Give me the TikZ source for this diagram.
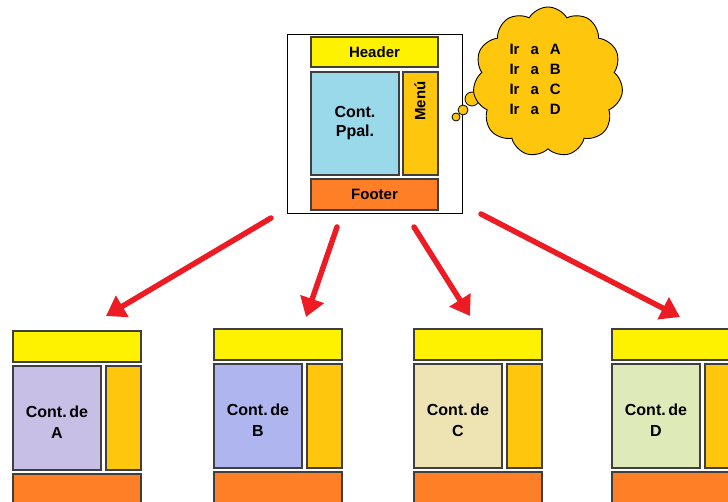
\documentclass[tikz,border=0pt]{standalone}
\usepackage{fontspec}
\setmainfont{Liberation Sans}
\usetikzlibrary{arrows.meta,shapes.symbols}
\definecolor{hdrY}{HTML}{FFF200}
\definecolor{menuO}{HTML}{FFC60E}
\definecolor{footO}{HTML}{FF7F27}
\definecolor{ppal}{HTML}{99D9EA}
\definecolor{contA}{HTML}{C8BFE7}
\definecolor{contB}{HTML}{AFB5EE}
\definecolor{contC}{HTML}{EEE3B3}
\definecolor{contD}{HTML}{DEEBB8}
\definecolor{boxline}{HTML}{3F3F3F}
\definecolor{arrowred}{HTML}{ED1C24}
\begin{document}
\begin{tikzpicture}[x=1pt,y=-1pt,
  pane/.style={draw=boxline, line width=1.3pt, inner sep=0pt, outer sep=0pt, anchor=north west},
  lbl/.style={font=\fontsize{15}{17}\selectfont\bfseries, align=center, text=black},
  redarrow/.style={draw=arrowred, line width=5.5pt, line cap=round, -{Triangle[length=19pt,width=24pt]}}]
\useasboundingbox (0,0) rectangle (728,502);
% top page frame
\node[draw=black, line width=1pt, inner sep=0pt, anchor=north west, minimum width=175pt, minimum height=179pt] (page) at (287,34) {};
\node[pane, fill=hdrY, minimum width=127pt, minimum height=30pt] (hdr) at (311,37) {};
\node[lbl] (hdrtxt) at (hdr.center) {Header};
\node[pane, fill=ppal, minimum width=88pt, minimum height=103pt] (ppal) at (311,72) {};
\node[lbl, font=\fontsize{16}{19}\selectfont\bfseries] (ppaltxt) at (ppal.center) {Cont.\\Ppal.};
\node[pane, fill=menuO, minimum width=35pt, minimum height=103pt] (menu) at (403,72) {};
\node[lbl, rotate=90] (menutxt) at (420,101) {Menú};
\node[pane, fill=footO, minimum width=127pt, minimum height=31pt] (foot) at (311,179) {};
\node[lbl] (foottxt) at (foot.center) {Footer};
% thought bubbles
\node[circle, draw=black, line width=0.8pt, fill=menuO, minimum size=8pt, inner sep=0pt] (b1) at (456,117) {};
\node[circle, draw=black, line width=0.8pt, fill=menuO, minimum size=10pt, inner sep=0pt] (b2) at (463,110) {};
\node[circle, draw=black, line width=0.8pt, fill=menuO, minimum size=14pt, inner sep=0pt] (b3) at (472,99) {};
\node[cloud, cloud puffs=11, cloud puff arc=120, aspect=1, draw=black, line width=0.9pt, fill=menuO, minimum width=150pt, minimum height=150pt, inner sep=0pt] (think) at (548,82) {};
\node[lbl, font=\fontsize{15}{20}\selectfont\bfseries, anchor=north west] (thinktxt) at (506,37)
  {\begin{tabular}{@{}l@{\hspace{11pt}}l@{\hspace{11pt}}l@{}}Ir & a & A\\ Ir & a & B\\ Ir & a & C\\ Ir & a & D\end{tabular}};
% bottom pages
\foreach \x/\y/\n/\c/\l in {13/331/a/contA/A, 214/329/b/contB/B, 414/329/c/contC/C, 612/329/d/contD/D}{
  \node[pane, fill=hdrY, minimum width=128pt, minimum height=31pt] (hdr\n) at (\x,\y) {};
  \node[pane, fill=\c, minimum width=88pt, minimum height=104pt] (cont\n) at (\x,\y+35) {};
  \node[lbl, font=\fontsize{16}{21}\selectfont\bfseries] (conttxt\n) at ([yshift=-4pt]cont\n.center) {Cont.\,de\\\l};
  \node[pane, fill=menuO, minimum width=35pt, minimum height=104pt] (menu\n) at (\x+93,\y+35) {};
  \node[pane, fill=footO, minimum width=128pt, minimum height=40pt] (foot\n) at (\x,\y+143) {};
}
% arrows
\coordinate (s1) at (271,218);
\coordinate (e1) at (106,316);
\coordinate (s2) at (337,227);
\coordinate (e2) at (306,317);
\coordinate (s3) at (414,227);
\coordinate (e3) at (470,316);
\coordinate (s4) at (481,214);
\coordinate (e4) at (680,317);
\draw[redarrow] (s1) -- (e1);
\draw[redarrow] (s2) -- (e2);
\draw[redarrow] (s3) -- (e3);
\draw[redarrow] (s4) -- (e4);
\end{tikzpicture}
\end{document}
